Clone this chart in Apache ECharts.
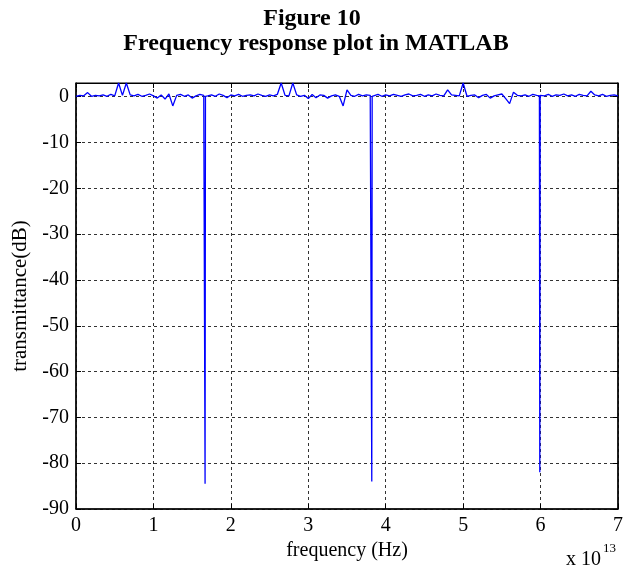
<!DOCTYPE html>
<html>
<head>
<meta charset="utf-8">
<script src="https://cdn.jsdelivr.net/npm/echarts@6/dist/echarts.min.js"></script>
<style>html,body{margin:0;padding:0;background:#fff}#c{width:632px;height:572px}</style>
</head>
<body>
<div id="c"></div>
<script>
// frequency in units of 1e13 Hz
const freq = [
0.00,0.05,0.10,0.15,0.20,0.25,0.30,0.35,0.40,0.45,0.50,0.55,0.60,0.65,0.70,0.75,0.80,0.85,0.90,0.95,
1.00,1.05,1.10,1.15,1.20,1.25,1.30,1.35,1.40,1.45,1.50,1.55,1.60,1.65,1.662,1.667,1.672,1.70,1.75,1.80,1.85,1.90,1.95,
2.00,2.05,2.10,2.15,2.20,2.25,2.30,2.35,2.40,2.45,2.50,2.55,2.60,2.65,2.70,2.75,2.80,2.85,2.90,2.95,
3.00,3.05,3.10,3.15,3.20,3.25,3.30,3.35,3.40,3.45,3.50,3.55,3.60,3.65,3.70,3.75,3.80,3.815,3.82,3.825,3.85,3.90,3.95,
4.00,4.05,4.10,4.15,4.20,4.25,4.30,4.35,4.40,4.45,4.50,4.55,4.60,4.65,4.70,4.75,4.80,4.85,4.90,4.95,
5.00,5.05,5.10,5.15,5.20,5.25,5.30,5.35,5.40,5.45,5.50,5.55,5.60,5.65,5.70,5.75,5.80,5.85,5.90,5.95,5.985,5.99,5.995,
6.00,6.05,6.10,6.15,6.20,6.25,6.30,6.35,6.40,6.45,6.50,6.55,6.60,6.65,6.70,6.75,6.80,6.85,6.90,6.95,7.00
];
const transmittance = [
0.1,0.3,0.2,0.9,0.1,0.3,0.2,0.4,0.1,0.5,0.2,3,0.3,3,0.4,0.2,0.5,0.1,0.3,0.6,
0.2,-0.3,0.4,-0.5,0.6,-2.0,0.3,0.5,0.1,0.4,-0.3,0.2,0.5,0.3,0.2,-84.5,0.1,0.2,0.4,0.1,0.6,0.3,-0.2,
0.4,0.2,0.5,0.1,0.3,0.4,0.2,0.6,0.3,0.1,0.4,0.2,0.5,3,0.3,0.2,3,0.4,0.1,0.3,
-0.4,0.5,-0.2,0.4,0.3,-0.3,0.2,0.4,0.1,-2.0,1.5,0.3,0.1,0.5,0.2,0.4,0.3,0.2,-84,0.1,0.2,0.5,0.1,
0.4,0.2,0.5,0.3,0.1,0.4,0.6,0.2,0.3,0.5,0.1,0.4,0.2,0.6,0.3,0.2,1.5,0.4,0.3,0.2,
3,0.1,0.3,0.4,-0.2,0.3,0.5,-0.3,0.2,0.4,0.6,-0.4,-1.5,1.0,0.3,0.2,0.4,0.1,0.5,0.3,0.2,-82,0.3,
0.4,0.2,0.5,0.1,0.4,0.3,0.6,0.2,0.4,0.1,0.5,0.3,0.2,1.2,0.4,0.2,0.5,0.1,0.3,0.4,0.2
];
const yTicks = [0,-10,-20,-30,-40,-50,-60,-70,-80,-90];

const FONT = '"Liberation Serif","Times New Roman",serif';
const chart = echarts.init(document.getElementById('c'));
const data = freq.map((f,i)=>[f, transmittance[i]]);
chart.setOption({
  animation:false,
  backgroundColor:'#fff',
  grid:{left:76,right:14,top:83,bottom:63,show:true,borderColor:'#000',borderWidth:1,backgroundColor:'transparent'},
  xAxis:[{
    type:'value',min:0,max:7,interval:1,
    name:'frequency (Hz)',nameLocation:'middle',nameGap:22,
    nameTextStyle:{fontFamily:FONT,fontSize:20,color:'#000'},
    axisLine:{show:true,onZero:false,lineStyle:{color:'#000',width:1.5}},
    axisTick:{show:true,inside:true,length:5,lineStyle:{color:'#000'}},
    axisLabel:{fontFamily:FONT,fontSize:20,color:'#000',margin:7},
    splitLine:{show:true,lineStyle:{color:'#333',type:[3,3],width:1}}
  },{
    type:'value',min:0,max:7,interval:1,position:'top',
    axisLine:{show:true,onZero:false,lineStyle:{color:'#000'}},
    axisTick:{show:true,inside:true,length:5,lineStyle:{color:'#000'}},
    axisLabel:{show:false},splitLine:{show:false}
  }],
  yAxis:[{
    type:'value',min:-90,max:3,interval:10,
    name:'transmittance(dB)',nameLocation:'middle',nameGap:33,
    nameTextStyle:{fontFamily:FONT,fontSize:21,color:'#000'},
    axisLine:{show:true,onZero:false,lineStyle:{color:'#000',width:1.5}},
    axisTick:{show:true,inside:true,length:5,lineStyle:{color:'#000'}},
    axisLabel:{fontFamily:FONT,fontSize:20,color:'#000',margin:7,showMaxLabel:false,
      formatter:function(v){return yTicks.indexOf(v)>=0?String(v):'';}},
    splitLine:{show:true,lineStyle:{color:'#333',type:[3,3],width:1}}
  },{
    type:'value',min:-90,max:3,interval:10,position:'right',
    axisLine:{show:true,onZero:false,lineStyle:{color:'#000',width:1.5}},
    axisTick:{show:true,inside:true,length:5,lineStyle:{color:'#000'}},
    axisLabel:{show:false},splitLine:{show:false}
  }],
  graphic:[
    {type:'text',x:312,y:7,style:{text:'Figure 10',fontFamily:FONT,fontWeight:'bold',fontSize:24,fill:'#000',align:'center',verticalAlign:'top'}},
    {type:'text',x:316,y:32,style:{text:'Frequency response plot in MATLAB',fontFamily:FONT,fontWeight:'bold',fontSize:24,fill:'#000',align:'center',verticalAlign:'top'}},
    {type:'text',x:566,y:550,style:{text:'x 10',fontFamily:FONT,fontSize:20,fill:'#000'}},
    {type:'text',x:603,y:542,style:{text:'13',fontFamily:FONT,fontSize:13,fill:'#000'}}
  ],
  series:[{
    type:'line',data:data,xAxisIndex:0,yAxisIndex:0,
    showSymbol:false,symbol:'none',clip:true,
    lineStyle:{color:'#0000ff',width:1.3}
  }]
});
</script>
</body>
</html>
